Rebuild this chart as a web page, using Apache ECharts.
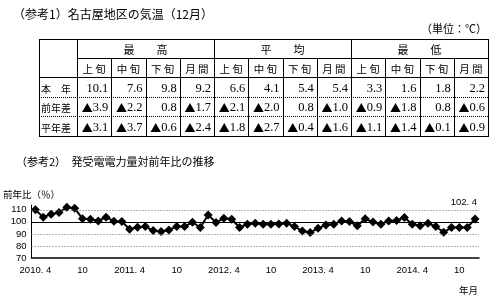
<!DOCTYPE html>
<html><head><meta charset="utf-8">
<script src="https://cdn.jsdelivr.net/npm/echarts@6/dist/echarts.min.js"></script>
<style>html,body{margin:0;padding:0;background:#fff}#c{width:495px;height:307px}</style>
</head><body><div id="c"></div>
<script>
// ---- table data ----
const title1 = '（参考1）名古屋地区の気温（12月）';
const unitText = '（単位：℃）';
const groupHeaders = ['最　　高', '平　　均', '最　　低'];
const subHeaders = ['上 旬', '中 旬', '下 旬', '月 間'];
const rowLabels = ['本　年', '前年差', '平年差'];
const thisYear = [10.1, 7.6, 9.8, 9.2, 6.6, 4.1, 5.4, 5.4, 3.3, 1.6, 1.8, 2.2];
const diffPrevYear = [-3.9, -2.2, 0.8, -1.7, -2.1, -2.0, 0.8, -1.0, -0.9, -1.8, 0.8, -0.6];
const diffNormal = [-3.1, -3.7, -0.6, -2.4, -1.8, -2.7, -0.4, -1.6, -1.1, -1.4, -0.1, -0.9];

// ---- chart data ----
const title2 = '（参考2）　発受電電力量対前年比の推移';
const yName = '前年比（％）';
const xName = '年月';
const years = [2010, 2011, 2012, 2013, 2014];
const months = [];
years.forEach(y => { for (let m = (y === 2010 ? 4 : 1); m <= 12; m++) months.push(y + '.' + m); });
const ratio = [
  110.0, 103.9, 106.4, 107.8, 112.2, 111.4, 102.5, 102.2, 100.8,          // 2010.4-12
  103.9, 100.6, 100.3, 93.9, 95.6, 96.1, 92.8, 91.9, 93.3, 96.1, 96.1, 99.7, // 2011
  95.3, 105.8, 99.4, 103.1, 102.2, 95.3, 98.1, 98.9, 98.1, 98.1, 98.3, 98.9, // 2012
  96.1, 92.5, 91.1, 94.7, 97.5, 98.1, 100.8, 100.3, 96.7, 102.5, 99.9, 98.1, // 2013
  100.8, 101.1, 103.6, 98.1, 96.7, 98.9, 96.1, 91.4, 95.3, 95.3, 95.3, 102.4 // 2014
];
const yTicks = [70, 80, 90, 100, 110];
const refLines = [{v: 110, solid: false}, {v: 100, solid: true}, {v: 90, solid: false}, {v: 80, solid: false}];

const JP = "'Noto Sans CJK JP', sans-serif";
const SERIF = "'Liberation Serif', serif";
const SANS = "'Liberation Sans', Arial, sans-serif";

// ---- table layout ----
const tX0 = 39, tX1 = 77, colW = 34.25, nCol = 12;
const tX2 = tX1 + colW * nCol;
const rowY = [39, 58, 77, 97, 116, 136];
const px = v => Math.round(v) + 0.5;
const graphics = [];
function hline(x1, x2, y, dotted) {
  graphics.push({type: 'line', silent: true, shape: {x1: x1, y1: px(y), x2: x2, y2: px(y)},
    style: {stroke: '#000', lineWidth: 1, lineDash: dotted ? [1, 1] : null}});
}
function vline(x, y1, y2) {
  graphics.push({type: 'line', silent: true, shape: {x1: px(x), y1: y1, x2: px(x), y2: y2},
    style: {stroke: '#000', lineWidth: 1}});
}
function text(x, y, str, opts) {
  graphics.push({type: 'text', silent: true, x: x, y: y,
    style: Object.assign({text: str, fill: '#000', verticalAlign: 'middle'}, opts)});
}
hline(tX0, tX2 + 1, rowY[0]);
hline(tX1, tX2 + 1, rowY[1]);
hline(tX0, tX2 + 1, rowY[2]);
hline(tX0, tX2 + 1, rowY[3], true);
hline(tX0, tX2 + 1, rowY[4], true);
hline(tX0, tX2 + 1, rowY[5]);
vline(tX0, px(rowY[0]), px(rowY[5]));
vline(tX1, px(rowY[0]), px(rowY[5]));
for (let c = 1; c <= nCol; c++) {
  const x = tX1 + colW * c;
  vline(c === nCol ? tX2 : x, c % 4 === 0 ? px(rowY[0]) : px(rowY[1]), px(rowY[5]));
}
groupHeaders.forEach((g, i) => {
  text(tX1 + colW * (4 * i + 2), (rowY[0] + rowY[1]) / 2 + 1.5, g, {fontFamily: JP, fontSize: 11, align: 'center'});
});
for (let c = 0; c < nCol; c++) {
  text(tX1 + colW * (c + 0.5), (rowY[1] + rowY[2]) / 2 + 1.5, subHeaders[c % 4], {fontFamily: JP, fontSize: 10.5, align: 'center'});
}
rowLabels.forEach((l, r) => {
  text(tX0 + 2, (rowY[2 + r] + rowY[3 + r]) / 2 + 2, l, {fontFamily: JP, fontSize: 10, align: 'left'});
});
const fmtVal = v => v < 0 ? '{t|▲}' + Math.abs(v).toFixed(1) : v.toFixed(1);
[thisYear, diffPrevYear, diffNormal].forEach((arr, r) => {
  arr.forEach((v, c) => {
    text(tX1 + colW * (c + 1) - 3, (rowY[2 + r] + rowY[3 + r]) / 2 + 1.5, fmtVal(v),
      {fontFamily: SERIF, fontSize: 12.5, align: 'right',
       rich: {t: {fontFamily: JP, fontSize: 11, fill: '#000'}}});
  });
});
text(13, 14, title1, {fontFamily: JP, fontSize: 12, align: 'left'});
text(487, 29, unitText, {fontFamily: JP, fontSize: 11, align: 'right'});
text(16, 162, title2, {fontFamily: JP, fontSize: 11, align: 'left'});

const lastIdx = ratio.length - 1;
const seriesData = ratio.map((v, i) => i === lastIdx ? {
  value: v,
  label: {show: true, position: 'top', align: 'right', distance: 7, offset: [2, 0],
    fontFamily: SANS, fontSize: 9.5, color: '#000',
    formatter: p => Number(p.value).toFixed(1).replace('.', '. ')}
} : v);

const chart = echarts.init(document.getElementById('c'), null, {renderer: 'canvas'});
chart.setOption({
  animation: false,
  backgroundColor: '#fff',
  grid: {left: 30, right: 16, top: 205, bottom: 49, containLabel: false},
  xAxis: {
    type: 'category', data: months, boundaryGap: true,
    name: xName, nameLocation: 'end', nameGap: -1,
    nameTextStyle: {fontFamily: JP, fontSize: 9.5, color: '#000', align: 'right', verticalAlign: 'top', padding: [28, 0, 0, 0]},
    axisLine: {lineStyle: {color: '#000', width: 1.5}},
    axisTick: {inside: true, length: 3, interval: 5, lineStyle: {color: '#000'}},
    axisLabel: {
      interval: 5, margin: 7, fontFamily: SANS, fontSize: 9.5, color: '#000',
      formatter: v => { const [y, m] = v.split('.'); return m === '4' ? y + '. 4' : m; }
    },
    splitLine: {show: false}
  },
  yAxis: {
    type: 'value', min: 70, max: 114, interval: 10,
    name: yName, nameLocation: 'end', nameGap: 6,
    nameTextStyle: {fontFamily: JP, fontSize: 9.5, color: '#000'},
    axisLine: {show: true, lineStyle: {color: '#000', width: 1}},
    axisTick: {show: false},
    axisLabel: {margin: 5, fontFamily: SANS, fontSize: 9.5, color: '#000',
      formatter: v => yTicks.indexOf(v) >= 0 ? String(v) : ''},
    splitLine: {show: false}
  },
  series: [{
    type: 'line', data: seriesData,
    symbol: 'diamond', symbolSize: 9, showAllSymbol: true,
    lineStyle: {color: '#000', width: 2},
    itemStyle: {color: '#000'},
    markLine: {
      silent: true, symbol: 'none', label: {show: false}, animation: false,
      data: refLines.map(r => ({yAxis: r.v, lineStyle: {color: r.solid ? '#000' : '#666', width: 1, type: r.solid ? 'solid' : [1, 2]}}))
    },
    z: 3
  }],
  graphic: graphics
});
</script>
</body></html>
